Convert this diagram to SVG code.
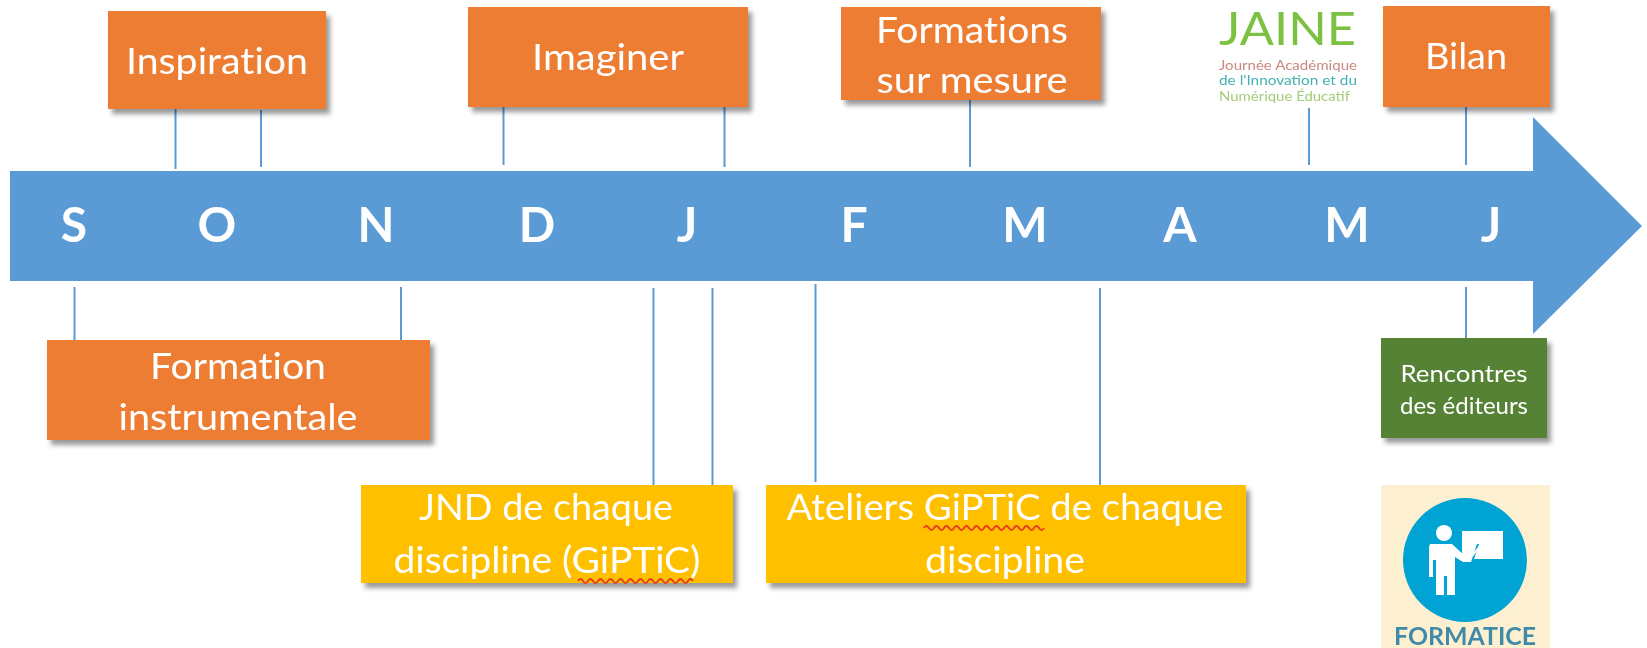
<svg xmlns="http://www.w3.org/2000/svg" width="1647" height="648" viewBox="0 0 1647 648">
<style>
.t{font-family:Lato,"Liberation Sans",sans-serif;fill:#fff;text-anchor:middle;font-variant-ligatures:none;filter:url(#b)}
.b{font-size:37px}
.m{font-size:48px;font-weight:700}
.o{fill:#ed7d31;filter:url(#s)}
.y{fill:#ffc000;filter:url(#s)}
.g{fill:#548235;filter:url(#s)}
.c{stroke:#5b9bd5;stroke-width:2;fill:none}
.w{stroke:#e8401c;stroke-width:2;fill:none}
.l{font-family:Lato,"Liberation Sans",sans-serif;font-size:12.5px;filter:url(#b)}
</style>
<defs>
<filter id="s" x="-10%" y="-10%" width="125%" height="130%"><feDropShadow dx="4" dy="5" stdDeviation="2.500" flood-color="#000" flood-opacity=".4"/></filter>
<filter id="b" x="-5%" y="-20%" width="110%" height="140%"><feGaussianBlur stdDeviation=".45"/></filter>
</defs>
<rect width="1647" height="648" fill="#fff"/>
<g id="connectors">
<path class="c" d="M175.500 109V169M261 110V167M503.500 107V165M724.500 107V167M970 100V167M1309 108V165M1466 107V165M74.500 287V340M401 287V340M653.500 288V485M712.500 288V485M815.500 284V482M1100 288V485M1466 287V338"/>
</g>
<g id="timeline">
<path d="M10 171H1533V117L1642 226L1533 334V281H10Z" fill="#5b9bd5"/>
<text class="t m" x="74" y="242">S</text>
<text class="t m" x="217" y="242">O</text>
<text class="t m" x="376" y="242">N</text>
<text class="t m" x="537" y="242">D</text>
<text class="t m" x="687" y="242">J</text>
<text class="t m" x="854" y="242">F</text>
<text class="t m" x="1025" y="242">M</text>
<text class="t m" x="1180" y="242">A</text>
<text class="t m" x="1347" y="242">M</text>
<text class="t m" x="1491" y="242">J</text>
</g>
<g id="inspiration"><rect class="o" x="108" y="11" width="218" height="98"/><text class="t b" x="217" y="74" textLength="182" lengthAdjust="spacingAndGlyphs">Inspiration</text></g>
<g id="imaginer"><rect class="o" x="468" y="7" width="280" height="100"/><text class="t b" x="608" y="70" textLength="152" lengthAdjust="spacingAndGlyphs">Imaginer</text></g>
<g id="formations"><rect class="o" x="841" y="7" width="260" height="93"/><text class="t b" x="972" y="43" textLength="192" lengthAdjust="spacingAndGlyphs">Formations</text><text class="t b" x="972" y="93" textLength="191" lengthAdjust="spacingAndGlyphs">sur mesure</text></g>
<g id="jaine">
<text x="1219" y="45" font-family="Lato,'Liberation Sans',sans-serif" font-size="46" fill="#7cc142" textLength="137" lengthAdjust="spacingAndGlyphs" filter="url(#b)">JAINE</text>
<text class="l" x="1219" y="70" fill="#c88a80" textLength="138" lengthAdjust="spacingAndGlyphs">Journée Académique</text>
<text class="l" x="1219" y="85" fill="#45b0b5" textLength="138" lengthAdjust="spacingAndGlyphs">de l'Innovation et du</text>
<text class="l" x="1219" y="101" fill="#a5cc7a" textLength="131" lengthAdjust="spacingAndGlyphs">Numérique Éducatif</text>
</g>
<g id="bilan"><rect class="o" x="1383" y="6" width="167" height="101"/><text class="t b" x="1466" y="69" textLength="82" lengthAdjust="spacingAndGlyphs">Bilan</text></g>
<g id="instrumentale"><rect class="o" x="47" y="340" width="383" height="100"/><text class="t b" x="238" y="379" textLength="176" lengthAdjust="spacingAndGlyphs">Formation</text><text class="t b" x="238" y="430" textLength="239" lengthAdjust="spacingAndGlyphs">instrumentale</text></g>
<g id="jnd"><rect class="y" x="361" y="485" width="372" height="98"/><text class="t b" x="546" y="520" textLength="254" lengthAdjust="spacingAndGlyphs">JND de chaque</text><text class="t b" x="547" y="573" textLength="307" lengthAdjust="spacingAndGlyphs">discipline (GiPTiC)</text>
<path class="w" d="M578 581q2.500-4 5 0t5 0t5 0t5 0t5 0t5 0t5 0t5 0t5 0t5 0t5 0t5 0t5 0t5 0t5 0t5 0t5 0t5 0t5 0t5 0t5 0t5 0t5 0"/></g>
<g id="ateliers"><rect class="y" x="766" y="485" width="480" height="98"/><text class="t b" x="1005" y="520" textLength="437" lengthAdjust="spacingAndGlyphs">Ateliers GiPTiC de chaque</text><text class="t b" x="1005" y="573" textLength="160" lengthAdjust="spacingAndGlyphs">discipline</text>
<path class="w" d="M924 528q2.500-4 5 0t5 0t5 0t5 0t5 0t5 0t5 0t5 0t5 0t5 0t5 0t5 0t5 0t5 0t5 0t5 0t5 0t5 0t5 0t5 0t5 0t5 0t5 0t5 0"/></g>
<g id="rencontres"><rect class="g" x="1381" y="338" width="166" height="100"/><text class="t" font-size="23" x="1464" y="382" textLength="127" lengthAdjust="spacingAndGlyphs">Rencontres</text><text class="t" font-size="23" x="1464" y="414" textLength="128" lengthAdjust="spacingAndGlyphs">des éditeurs</text></g>
<g id="formatice">
<rect x="1381" y="485" width="169" height="163" fill="#fdf0d0"/>
<circle cx="1465" cy="560" r="62" fill="#00a3d3"/>
<circle cx="1444" cy="533" r="8" fill="#fff"/>
<path d="M1430 544H1452L1465 556L1472 556V562H1463L1455 557V595H1447V576H1444V595H1436V560H1433V577H1429V547Z" fill="#fff"/>
<rect x="1462" y="531" width="41" height="28" fill="#fff"/>
<path d="M1472 562L1478 544" stroke="#00a3d3" stroke-width="2"/>
<path d="M1472 556L1480 546" stroke="#fff" stroke-width="2"/>
<text x="1465" y="645" text-anchor="middle" font-family="Lato,'Liberation Sans',sans-serif" font-size="24" font-weight="700" fill="#3f8aa8" textLength="142" lengthAdjust="spacingAndGlyphs" filter="url(#b)">FORMATICE</text>
</g>
</svg>
